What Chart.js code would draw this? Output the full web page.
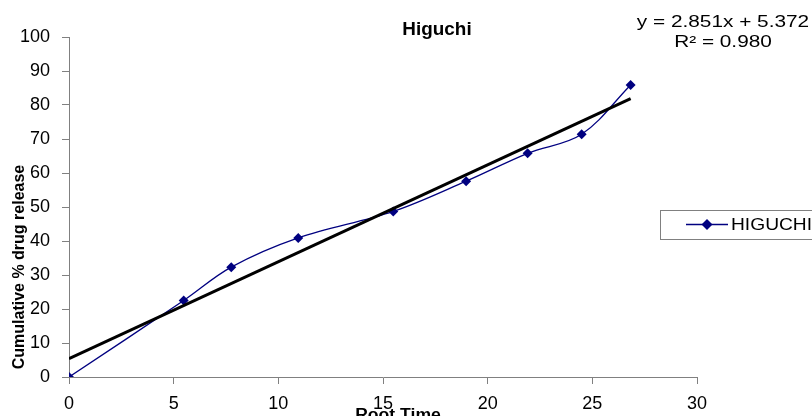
<!DOCTYPE html>
<html>
<head>
<meta charset="utf-8">
<script src="https://cdn.jsdelivr.net/npm/chart.js@4.4.0/dist/chart.umd.min.js"></script>
<style>
  body { margin: 0; background: #fff; }
  canvas { display: block; }
</style>
</head>
<body>
<canvas id="higuchi" width="812" height="416"></canvas>
<script>
// data
const rootTime = [0, 5.48, 7.75, 10.95, 15.49, 18.97, 21.91, 24.49, 26.83];
const release = [0, 22.5, 32.3, 40.9, 48.7, 57.6, 65.8, 71.4, 85.9];
const trendX = [0, 26.83];
const trendY = [5.37, 81.86];
const xTicks = [0, 5, 10, 15, 20, 25, 30];
const yTicks = [0, 10, 20, 30, 40, 50, 60, 70, 80, 90, 100];
const equationLines = ['y = 2.851x + 5.372', 'R\u00b2 = 0.980'];

const navy = '#000080',
    axisGrey = '#808080',
    font = '"Liberation Sans", Arial, sans-serif';

// text stretched sideways a bit, the source picture is wider than tall
function wideText(ctx, text, x, y, sx) {
    ctx.save();
    ctx.translate(x, y);
    ctx.scale(sx, 1);
    ctx.fillText(text, 0, 0);
    ctx.restore();
}

// titles, equation and legend box
const extras = {
    id: 'extras',
    afterDraw(chart) {
        const ctx = chart.ctx;
        ctx.save();
        ctx.fillStyle = '#000';
        ctx.textAlign = 'center';
        ctx.textBaseline = 'alphabetic';

        ctx.font = 'bold 18px ' + font;
        wideText(ctx, 'Higuchi', 437, 35, 1.05);

        ctx.font = '16px ' + font;
        wideText(ctx, equationLines[0], 723, 27, 1.3);
        wideText(ctx, equationLines[1], 723, 47, 1.3);

        ctx.font = 'bold 16px ' + font;
        wideText(ctx, 'Root Time', 398, 420, 1.1);

        ctx.save();
        ctx.translate(24, 267);
        ctx.rotate(-Math.PI / 2);
        ctx.fillText('Cumulative % drug release', 0, 0);
        ctx.restore();

        // legend
        ctx.strokeStyle = axisGrey;
        ctx.lineWidth = 1;
        ctx.strokeRect(660.5, 210.5, 200, 29);
        ctx.strokeStyle = navy;
        ctx.lineWidth = 1.5;
        ctx.beginPath();
        ctx.moveTo(686, 224.5);
        ctx.lineTo(728, 224.5);
        ctx.stroke();
        ctx.fillStyle = navy;
        ctx.beginPath();
        ctx.moveTo(707, 219);
        ctx.lineTo(712.5, 224.5);
        ctx.lineTo(707, 230);
        ctx.lineTo(701.5, 224.5);
        ctx.closePath();
        ctx.fill();
        ctx.fillStyle = '#000';
        ctx.textAlign = 'left';
        ctx.font = '16px ' + font;
        wideText(ctx, 'HIGUCHI', 731, 230, 1.2);
        ctx.restore();
    }
};

new Chart(document.getElementById('higuchi'), {
    type: 'scatter',
    plugins: [extras],
    data: {
        datasets: [
            {
                label: 'Linear (HIGUCHI)',
                data: trendX.map((x, i) => ({ x: x, y: trendY[i] })),
                showLine: true,
                borderColor: '#000',
                borderWidth: 3,
                pointRadius: 0,
                tension: 0,
                order: 0
            },
            {
                label: 'HIGUCHI',
                data: rootTime.map((x, i) => ({ x: x, y: release[i] })),
                showLine: true,
                borderColor: navy,
                backgroundColor: navy,
                borderWidth: 1.3,
                pointStyle: 'rectRot',
                pointRadius: 5,
                pointBorderWidth: 0,
                tension: 0.35,
                order: 1
            }
        ]
    },
    options: {
        responsive: false,
        animation: false,
        layout: {
            padding: { left: 0, top: 37, right: 115, bottom: 0 }
        },
        plugins: {
            legend: { display: false },
            title: { display: false },
            tooltip: { enabled: false }
        },
        scales: {
            x: {
                type: 'linear',
                min: 0,
                max: 30,
                afterFit: (scale) => { scale.height = 39; },
                afterBuildTicks: (scale) => { scale.ticks = xTicks.map(v => ({ value: v })); },
                border: { color: axisGrey, width: 1 },
                grid: {
                    drawOnChartArea: false,
                    drawTicks: true,
                    tickLength: 7,
                    color: axisGrey
                },
                ticks: {
                    color: '#000',
                    padding: 9,
                    maxRotation: 0,
                    font: { family: font, size: 18 }
                }
            },
            y: {
                min: 0,
                max: 100,
                afterFit: (scale) => { scale.width = 69; },
                afterBuildTicks: (scale) => { scale.ticks = yTicks.map(v => ({ value: v })); },
                border: { color: axisGrey, width: 1 },
                grid: {
                    drawOnChartArea: false,
                    drawTicks: true,
                    tickLength: 7,
                    color: axisGrey
                },
                ticks: {
                    color: '#000',
                    padding: 12,
                    font: { family: font, size: 18 }
                }
            }
        }
    }
});
</script>
</body>
</html>
